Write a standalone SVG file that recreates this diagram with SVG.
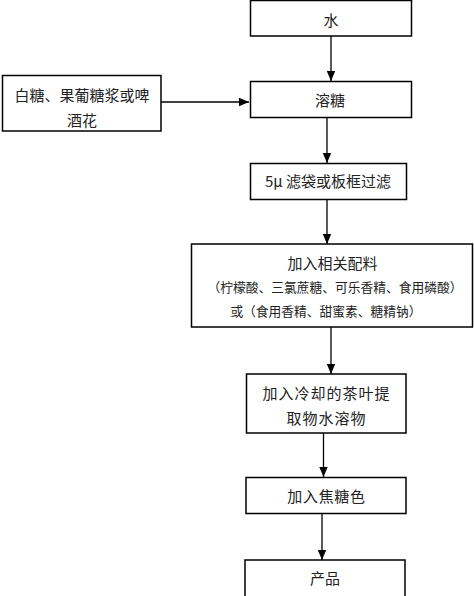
<svg xmlns="http://www.w3.org/2000/svg" width="474" height="596" viewBox="0 0 474 596">
<style>
.box{fill:#fff;stroke:#000;stroke-width:1.5}
.t{font-family:"Noto Sans CJK SC","Noto Sans",sans-serif;font-size:15px;fill:#222;text-anchor:middle}
.s{font-size:12.75px}
.c{stroke:#000;stroke-width:1.3;fill:none}
</style>
<defs>
<marker id="ah" markerWidth="10" markerHeight="10" refX="10" refY="5" orient="auto" markerUnits="userSpaceOnUse">
<path d="M0,0.8 L10,5 L0,9.2 Z" fill="#000"/>
</marker>
</defs>
<rect x="0" y="0" width="474" height="596" fill="#fff"/>
<g id="connectors">
<line class="c" x1="331" y1="36" x2="331" y2="81" marker-end="url(#ah)"/>
<line class="c" x1="161" y1="102" x2="249" y2="102" marker-end="url(#ah)"/>
<line class="c" x1="327" y1="118" x2="327" y2="163" marker-end="url(#ah)"/>
<line class="c" x1="327" y1="199" x2="327" y2="244" marker-end="url(#ah)"/>
<line class="c" x1="331" y1="327" x2="331" y2="374" marker-end="url(#ah)"/>
<line class="c" x1="323.5" y1="433" x2="323.5" y2="477" marker-end="url(#ah)"/>
<line class="c" x1="322" y1="513" x2="322" y2="560" marker-end="url(#ah)"/>
</g>
<g id="n1"><rect class="box" x="250.5" y="0.5" width="161" height="35.5"/><text class="t" x="331" y="25.5">水</text></g>
<g id="n2"><rect class="box" x="250.5" y="81.5" width="161" height="36"/><text class="t" x="330" y="105.5">溶糖</text></g>
<g id="n0"><rect class="box" x="2.5" y="75.5" width="158.5" height="55.5"/><text class="t" x="82" y="100.5">白糖、果葡糖浆或啤</text><text class="t" x="82" y="125.5">酒花</text></g>
<g id="n3"><rect class="box" x="250.5" y="163.5" width="156" height="36"/><text class="t" x="328" y="187">5μ 滤袋或板框过滤</text></g>
<g id="n4"><rect class="box" x="191.5" y="244" width="281" height="83"/><text class="t" x="332.5" y="268.5">加入相关配料</text><text class="t s" x="335" y="292">（柠檬酸、三氯蔗糖、可乐香精、食用磷酸）</text><text class="t s" x="326" y="316">或（食用香精、甜蜜素、糖精钠）</text></g>
<g id="n5"><rect class="box" x="246.5" y="374" width="159.5" height="59"/><text class="t" x="326.5" y="398.5" style="letter-spacing:1px">加入冷却的茶叶提</text><text class="t" x="326.5" y="423.5" style="letter-spacing:1px">取物水溶物</text></g>
<g id="n6"><rect class="box" x="246" y="477.5" width="160" height="36"/><text class="t" x="326.5" y="502" style="letter-spacing:0.7px">加入焦糖色</text></g>
<g id="n7"><rect class="box" x="245" y="560" width="160" height="40"/><text class="t" x="325" y="583.5">产品</text></g>
</svg>
